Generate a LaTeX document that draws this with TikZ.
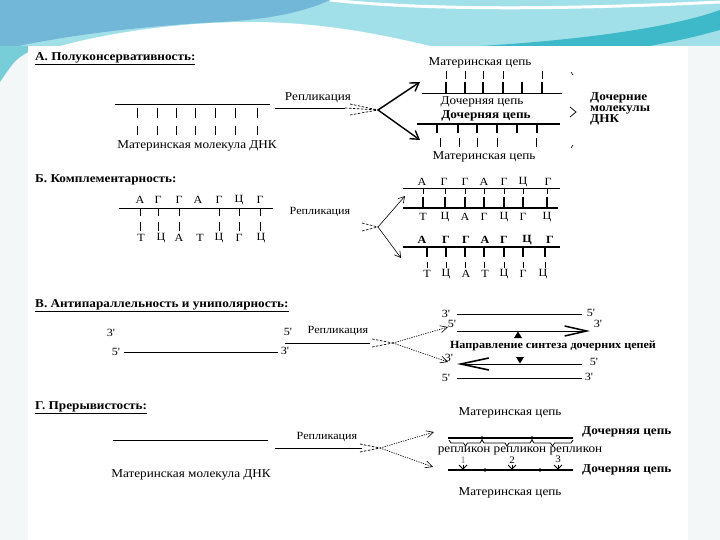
\documentclass[tikz,border=0pt]{standalone}
\usepackage{fontspec}
\setmainfont{Liberation Serif}
\newfontfamily\rf[FakeStretch=1.1]{Liberation Serif}
\usetikzlibrary{arrows.meta}
\definecolor{skyL}{HTML}{72B6D8}
\definecolor{cyanR}{HTML}{A2E0E9}
\definecolor{tealS}{HTML}{3DB9C9}
\definecolor{sidegray}{HTML}{F4F7F7}
\begin{document}
\begin{tikzpicture}[x=1pt,y=-1pt,
  t/.style={font=\rf\fontsize{12}{13}\selectfont, inner sep=0pt},
  tb/.style={font=\rf\bfseries\fontsize{12}{13}\selectfont, inner sep=0pt},
  ts/.style={font=\rf\fontsize{11}{12}\selectfont, inner sep=0pt},
  tx/.style={font=\rf\fontsize{10}{11}\selectfont, inner sep=0pt},
  tsb/.style={font=\rf\bfseries\fontsize{11}{12}\selectfont, inner sep=0pt},
  ln/.style={line width=0.9pt},
  thk/.style={line width=1.8pt},
  tick/.style={line width=0.8pt},
  ttick/.style={line width=2.2pt},
  dsh/.style={line width=0.7pt, dash pattern=on 2.5pt off 1.5pt},
  dotl/.style={line width=0.7pt, dash pattern=on 1.2pt off 1.2pt},
  bigarr/.style={line width=1.4pt, -{Straight Barb[length=8pt,width=10pt,line width=1.4pt]}},
  thinarr/.style={line width=0.6pt, -{Straight Barb[length=6pt,width=7pt,line width=0.6pt]}},
  dotarr/.style={dotl, -{Straight Barb[length=7pt,width=7pt,line width=0.6pt]}},
  brc/.style={line width=0.8pt, line join=round},
  ]
\useasboundingbox (0,0) rectangle (720,540);
% ---------- background ----------
\fill[white] (0,0) rectangle (720,540);
\fill[sidegray] (0,46) rectangle (28,540);
\fill[sidegray] (688,46) rectangle (720,540);
\fill[cyanR] (0,0) rectangle (720,46);
\fill[skyL] (0,0) -- (330,0) .. controls (300,14) and (260,20) .. (220,22) .. controls (140,26) and (60,36) .. (0,50) -- cycle;
\fill[white] (60,46) .. controls (120,30) and (190,22) .. (250,22) .. controls (320,22) and (380,34) .. (430,46) -- cycle;
\draw[white, line width=3pt] (330,0) .. controls (420,10) and (560,10) .. (720,2);
\fill[tealS] (480,46) .. controls (580,40) and (670,28) .. (720,10) -- (720,30) .. controls (690,38) .. (650,46) -- cycle;
\fill[tealS!70] (0,46) -- (28,46) -- (28,52) .. controls (15,60) .. (0,82) -- cycle;
\fill[white] (28,46) rectangle (688,540);

% ---------- A ----------
\node[tb, anchor=west] (Atitle) at (35,59) {\underline{А. Полуконсервативность:}};
\draw[ln] (115,104) -- (270,104);
\foreach \x in {137,157,176,195,215,235,257} {\draw[tick] (\x,108)--(\x,118); \draw[tick] (\x,126)--(\x,135);}
\node[t] (Amol) at (197,146) {Материнская молекула ДНК};
\node[t] (Arep) at (318,98) {Репликация};
\coordinate (As) at (275,108);
\coordinate (Ab) at (378,110);
\draw[ln] (As) -- (345,108);
\draw[dsh] (350,104) -- (Ab); \draw[dsh] (350,115) -- (Ab); \draw[dsh] (345,108) -- (Ab);
\coordinate (Aup) at (420,82);
\coordinate (Adn) at (420,140);
\draw[bigarr] (Ab) -- (Aup);
\draw[bigarr] (Ab) -- (Adn);
% upper daughter molecule
\node[t] (Am1) at (480,63) {Материнская цепь};
\foreach \x in {446,465,483,503,542} {\draw[tick] (\x,71)--(\x,79);}
\foreach \x in {446,465,483,503,522,542} {\draw[ttick] (\x,82)--(\x,93);}
\draw[ln] (422,93) -- (562,93);
\node[t] (Ad1) at (482,102) {Дочерняя цепь};
\node[tb] (Ad2) at (486,116) {Дочерняя цепь};
\draw[thk] (417,124) -- (560,124);
\foreach \x in {437,458,477,497,517,537} {\draw[ttick] (\x,124)--(\x,133);}
\foreach \x in {440,459,477,497,536} {\draw[tick] (\x,138)--(\x,147);}
\node[t] (Am2) at (484,157) {Материнская цепь};
\draw[line width=0.6pt] (571,72) -- (573,75);
\draw[line width=0.7pt] (570,107) -- (576,112) -- (570,117);
\draw[line width=0.6pt] (573,145) -- (571,148);
\node[tb, anchor=west, align=left, font=\rf\bfseries\fontsize{12}{11}\selectfont] (Adm) at (590,109) {Дочерние\\молекулы\\ДНК};

% ---------- B ----------
\node[tb, anchor=west] (Btitle) at (35,180) {Б. Комплементарность:};
\foreach \x/\l in {140/А,158/Г,179/Г,198/А,219/Г,239/Ц,260/Г} {\node[ts] (bt\x) at (\x,200) {\l};}
\draw[ln] (119,208) -- (273,208);
\foreach \x in {140,158,179,219,239,260} {\draw[tick] (\x,208)--(\x,216); \draw[tick] (\x,222)--(\x,231);}
\foreach \x/\l in {141/Т,161/Ц,179/А,200/Т,219/Ц,239/Г,261/Ц} {\node[ts] (bb\x) at (\x,238) {\l};}
\node[ts] (Brep) at (320,212) {Репликация};
\coordinate (Bb) at (378,227);
\draw[dsh] (362,223) -- (Bb); \draw[dsh] (362,231) -- (Bb);
\coordinate (Bup) at (405,196);
\coordinate (Bdn) at (401,258);
\draw[thinarr] (Bb) -- (Bup);
\draw[thinarr] (Bb) -- (Bdn);
% upper
\foreach \x/\l in {422/А,444/Г,465/Г,484/А,504/Г,523/Ц,548/Г} {\node[ts] (bu\x) at (\x,182) {\l};}
\draw[ln] (403,188) -- (560,188);
\foreach \x in {423,445,465,484,504,523,547} {\draw[tick] (\x,188)--(\x,194); \draw[ttick] (\x,197)--(\x,208);}
\draw[thk] (403,208) -- (558,208);
\foreach \x/\l in {423/Т,445/Ц,465/А,484/Г,504/Ц,523/Г,547/Ц} {\node[ts] (bv\x) at (\x,217) {\l};}
% lower
\foreach \x/\l in {422/А,446/Г,466/Г,485/А,504/Г,527/Ц,550/Г} {\node[tsb] (bw\x) at (\x,240) {\l};}
\draw[thk] (403,247) -- (560,247);
\foreach \x in {427,446,465,484,504,523,545} {\draw[ttick] (\x,247)--(\x,257); \draw[tick] (\x,262)--(\x,268);}
\foreach \x/\l in {427/Т,446/Ц,466/А,485/Т,504/Ц,523/Г,543/Ц} {\node[ts] (bz\x) at (\x,274) {\l};}

% ---------- C ----------
\node[tb, anchor=west] (Ctitle) at (35,306) {\underline{В. Антипараллельность и униполярность:}};
\node[ts] (c3a) at (111,333) {3'};
\node[ts] (c5a) at (288,332) {5'};
\node[ts] (Crep) at (338,331) {Репликация};
\node[ts] (c5b) at (116,352) {5'};
\node[ts] (c3b) at (285,351) {3'};
\draw[ln] (c5b.east) ++(4,0) -- (278,352);
\coordinate (Cs) at (285,343);
\coordinate (Cb) at (393,343);
\draw[ln] (Cs) -- (370,343);
\draw[dsh] (372,339) -- (Cb); \draw[dsh] (372,347) -- (Cb);
\coordinate (Cup) at (448,327);
\coordinate (Cdn) at (448,362);
\draw[dotarr] (Cb) -- (Cup);
\draw[dotarr] (Cb) -- (Cdn);
% right strands
\node[ts] (r1a) at (446,314) {3'};
\node[ts] (r1b) at (591,313) {5'};
\draw[ln] (457,314) -- (582,314);
\node[ts] (r2a) at (452,324) {5'};
\node[ts] (r2b) at (598,324) {3'};
\draw[ln, -{Straight Barb[length=22pt,width=10pt,line width=1.5pt]}] (457,331) -- (590,331);
\fill (514,338) -- (518,331.5) -- (522,338) -- cycle;
\node[tsb] (Cdir) at (553,346) {Направление синтеза дочерних цепей};
\node[ts] (r3a) at (449,358) {3'};
\node[ts] (r3b) at (594,362) {5'};
\draw[ln, {Straight Barb[length=28pt,width=12pt,line width=1.6pt]}-] (457,364) -- (582,364);
\fill (516,357) -- (520,363.5) -- (524,357) -- cycle;
\node[ts] (r4a) at (446,378) {5'};
\node[ts] (r4b) at (589,377) {3'};
\draw[ln] (457,378) -- (582,378);

% ---------- D ----------
\node[tb, anchor=west] (Dtitle) at (35,408) {\underline{Г. Прерывистость:}};
\draw[ln] (113,440) -- (268,440);
\node[t] (Dmol) at (191,475) {Материнская молекула ДНК};
\node[ts] (Drep) at (327,437) {Репликация};
\coordinate (Ds) at (275,448);
\coordinate (Db) at (380,448);
\draw[ln] (Ds) -- (362,448);
\draw[dsh] (360,444) -- (Db); \draw[dsh] (360,452) -- (Db);
\coordinate (Dup) at (434,432);
\coordinate (Ddn) at (433,467);
\draw[dotarr] (Db) -- (Dup);
\draw[dotarr] (Db) -- (Ddn);
\node[t] (Dm1) at (510,413) {Материнская цепь};
\draw[thk] (448,438) -- (573,438);
\fill (482,438) circle (1.8); \fill (532,438) circle (1.8);
\foreach \a/\b in {449/482,482/532,532/573} {
  \pgfmathsetmacro\m{(\a+\b)/2}
  \draw[brc] (\a,440) -- (\a+2,443) -- (\m-2,443) -- (\m,446) -- (\m+2,443) -- (\b-2,443) -- (\b,440);
}
\node[tb, anchor=west] (Dd1) at (582,432) {Дочерняя цепь};
\node[t] (Drep3) at (520,450.5) {репликон репликон репликон};
\node[tx, gray] (n1) at (463,460) {1};
\node[tx] (n2) at (512,460) {2};
\node[tx] (n3) at (558,459) {3};
\draw[thk] (448,470) -- (573,470);
\foreach \x in {463,512,558} {\draw[line width=1pt] (\x-4,465) -- (\x,469) -- (\x+4,465); \draw[line width=1pt] (\x,464.5) -- (\x,470);}
\fill (485,470) circle (1.8); \fill (540,470) circle (1.8);
\node[tb, anchor=west] (Dd2) at (582,470) {Дочерняя цепь};
\node[t] (Dm2) at (510,493) {Материнская цепь};
\end{tikzpicture}
\end{document}
